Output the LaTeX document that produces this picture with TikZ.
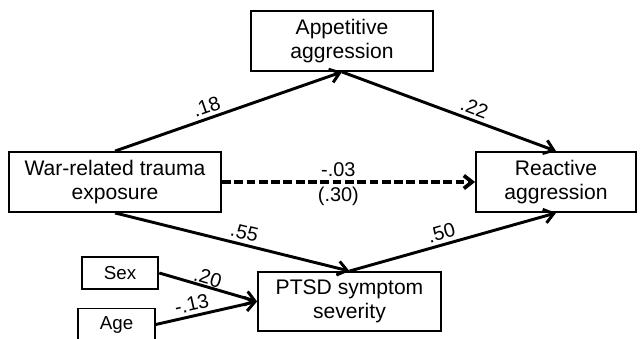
\documentclass[tikz,border=0pt]{standalone}
\usepackage{fontspec}
\setmainfont{Liberation Sans}
\usetikzlibrary{arrows.meta,positioning}

\begin{document}
\begin{tikzpicture}[
  box/.style={draw, line width=1.6pt, align=center, inner sep=0pt, minimum height=1.8cm, font=\fontsize{18}{21}\selectfont},
  smallbox/.style={draw, line width=1.6pt, inner sep=0pt, minimum width=2.3cm, minimum height=0.96cm, font=\fontsize{16}{19}\selectfont},
  link/.style={line width=2.5pt, -{Straight Barb[length=8pt,width=12pt]}},
  dashlink/.style={line width=3.2pt, dash pattern=on 7.5pt off 3pt, -{Straight Barb[length=7pt,width=11pt]}},
  coef/.style={font=\fontsize{17}{20}\selectfont, inner sep=3pt}
]
\useasboundingbox (0,0) rectangle (19.29,-10.17);

\node[box, minimum width=6.36cm](TR) at (3.45,-5.46){War-related trauma\\exposure};
\node[box, minimum width=5.46cm, right of=TR, node distance=6.81cm, yshift=4.23cm](APP){Appetitive\\aggression};
\node[box, minimum width=4.8cm, right of=TR, node distance=13.23cm](REA){Reactive\\aggression};
\node[box, minimum width=5.49cm, minimum height=1.77cm, right of=TR, node distance=7.035cm, yshift=-3.585cm](PTSD){PTSD symptom\\severity};

\node[smallbox, below of=TR, node distance=2.73cm, xshift=0.15cm](SEX){Sex};
\node[smallbox, below of=SEX, node distance=1.545cm, xshift=-0.105cm](AGE){Age};

% paths
\draw[link] (TR.north) -- node[coef, sloped, above, pos=0.42]{.18} (APP.south);
\draw[link] (APP.south) -- node[coef, sloped, above, pos=0.6]{.22} (REA.north);
\draw[dashlink] (TR.east) -- node[coef, above, pos=0.46]{-.03} node[coef, below, pos=0.46]{(.30)} (REA.west);
\draw[link] (TR.south) -- node[coef, sloped, above, pos=0.54]{.55} (PTSD.north);
\draw[link] (PTSD.north) -- node[coef, sloped, above, pos=0.46]{.50} (REA.south);

% covariates
\draw[link] (SEX.east) -- node[coef, sloped, above, pos=0.47, inner sep=0.5pt]{.20} (PTSD.west);
\draw[link] (AGE.east) -- node[coef, sloped, above, pos=0.38]{-.13} (PTSD.west);
\end{tikzpicture}
\end{document}
